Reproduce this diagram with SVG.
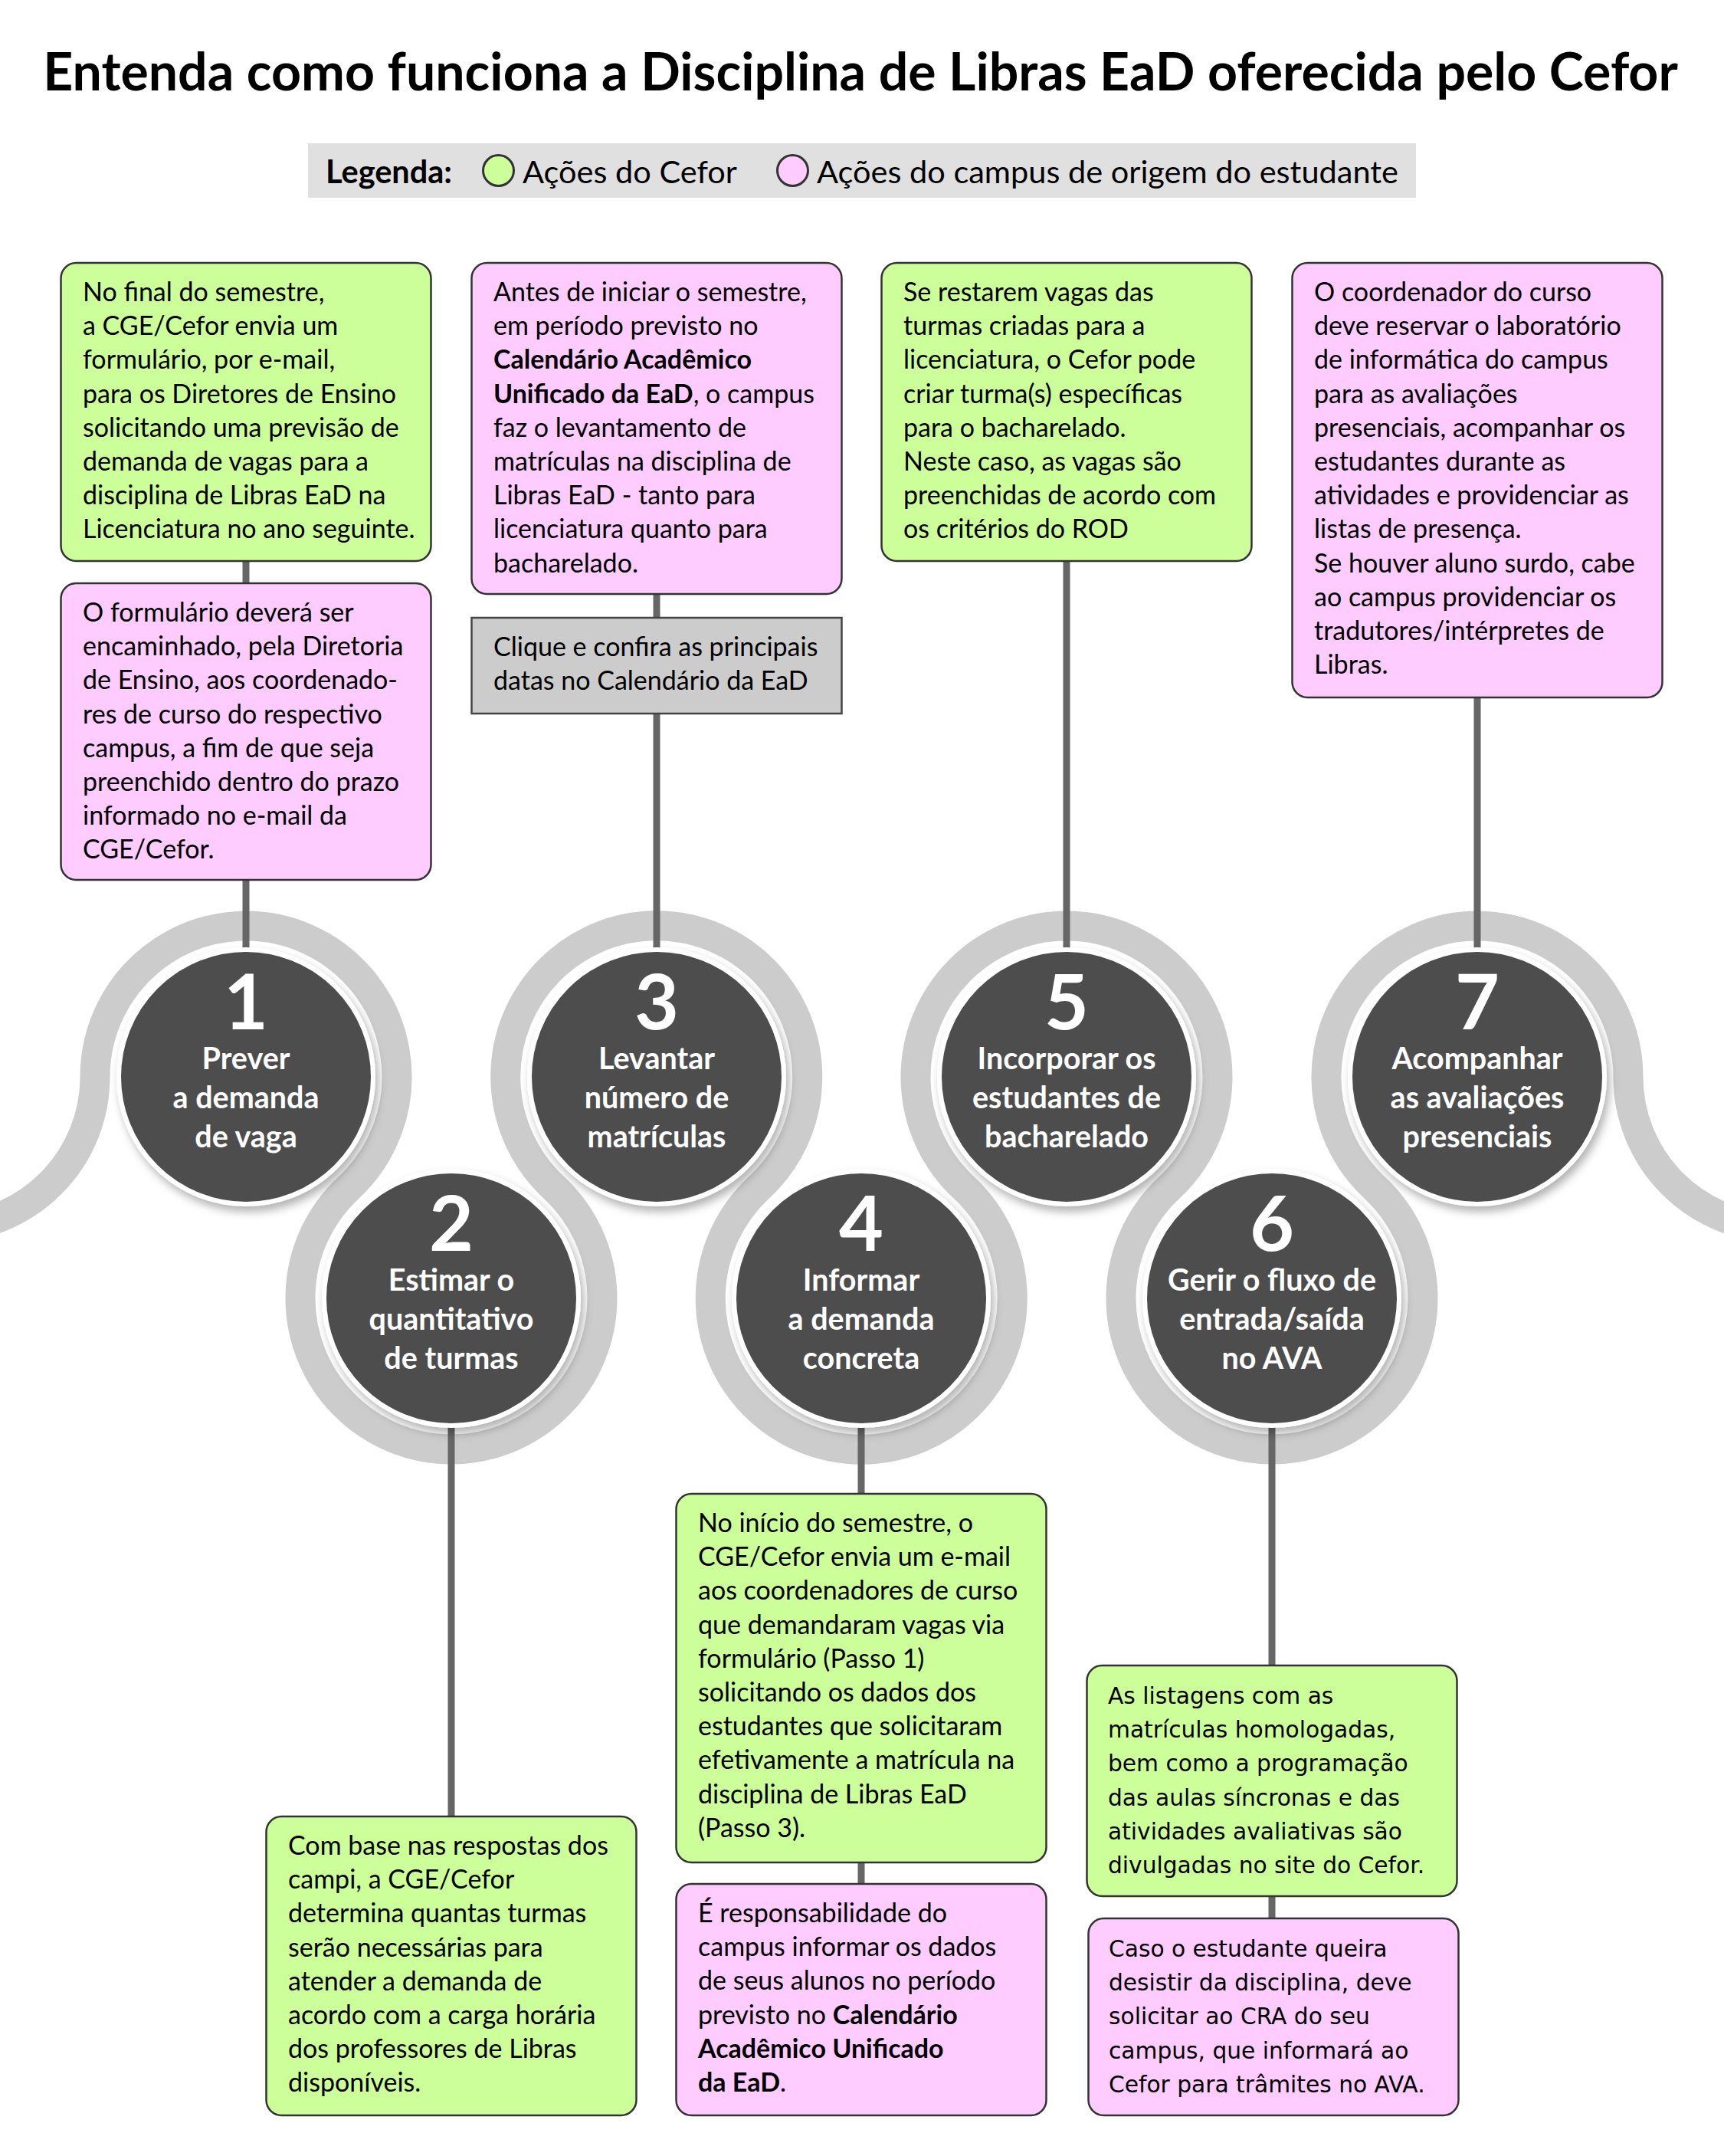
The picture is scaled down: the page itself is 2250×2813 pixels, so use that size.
<svg xmlns="http://www.w3.org/2000/svg" width="2250" height="2813" viewBox="0 0 2250 2813">
<style>
.t{font-family:Lato,"Open Sans",sans-serif;font-size:34px;fill:#000}
.v{font-family:"DejaVu Sans",Verdana,sans-serif;font-size:29.7px;fill:#000}
.b{font-weight:bold}
.g{fill:#ccff99;stroke:#333;stroke-width:2.5}
.p{fill:#ffccff;stroke:#333;stroke-width:2.5}
.gr{fill:#cccccc;stroke:#444;stroke-width:2.5}
.stem{stroke:#666;stroke-width:9;fill:none}
.band{stroke:#cccccc;stroke-width:39;fill:none}
.dot{fill:#4d4d4d;stroke:#fff;stroke-width:6}
.num{font-family:Lato,"Open Sans",sans-serif;font-weight:bold;font-size:100px;fill:#fff;text-anchor:middle}
.lbl{font-family:Lato,"Open Sans",sans-serif;font-weight:bold;font-size:39.5px;fill:#fff;text-anchor:middle}
</style>
<defs>
<filter id="sh" x="-20%" y="-20%" width="140%" height="140%">
<feDropShadow dx="4" dy="7" stdDeviation="6" flood-color="#000" flood-opacity="0.3"/>
</filter>
</defs>
<rect width="2250" height="2813" fill="#fff"/>
<text x="1123" y="118" text-anchor="middle" style="font-family:Lato,'Open Sans',sans-serif;font-weight:bold;font-size:68px">Entenda como funciona a Disciplina de Libras EaD oferecida pelo Cefor</text>
<g id="legend">
<rect x="402" y="187" width="1446" height="71" fill="#e0e0e0"/>
<text x="425" y="239" class="t b" style="font-size:41.5px">Legenda:</text>
<circle cx="650.5" cy="222.5" r="20" fill="#ccff99" stroke="#333" stroke-width="3"/>
<text x="682" y="239" class="t" style="font-size:41.5px">Ações do Cefor</text>
<circle cx="1034.5" cy="222.5" r="20" fill="#ffccff" stroke="#333" stroke-width="3"/>
<text x="1066" y="239" class="t" style="font-size:41.5px">Ações do campus de origem do estudante</text>
</g>
<g id="band">
<path class="band" d="M -73 1602 A 197 197 0 0 0 124 1405 A 197 197 0 1 1 455 1549.5 A 197 197 0 1 0 723 1549.5 A 197 197 0 1 1 990.5 1549.5 A 197 197 0 1 0 1258 1549.5 A 197 197 0 1 1 1526 1549.5 A 197 197 0 1 0 1794 1549.5 A 197 197 0 1 1 2125 1405 A 197 197 0 0 0 2322 1602"/>
</g>
<g id="connectors">
<line class="stem" x1="321" y1="730" x2="321" y2="1250"/>
<line class="stem" x1="857" y1="770" x2="857" y2="1250"/>
<line class="stem" x1="1392" y1="730" x2="1392" y2="1250"/>
<line class="stem" x1="1928" y1="905" x2="1928" y2="1250"/>
<line class="stem" x1="589" y1="1850" x2="589" y2="2372"/>
<line class="stem" x1="1124" y1="1850" x2="1124" y2="2460"/>
<line class="stem" x1="1660" y1="1850" x2="1660" y2="2505"/>
</g>
<g id="step1" filter="url(#sh)"><circle class="dot" cx="321" cy="1405" r="166"/></g>
<g id="step1-text"><text class="num" x="321" y="1343">1</text><text class="lbl" x="321" y="1395">Prever</text><text class="lbl" x="321" y="1446">a demanda</text><text class="lbl" x="321" y="1497">de vaga</text></g>
<g id="step2" filter="url(#sh)"><circle class="dot" cx="589" cy="1694" r="166"/></g>
<g id="step2-text"><text class="num" x="589" y="1632">2</text><text class="lbl" x="589" y="1684">Estimar o</text><text class="lbl" x="589" y="1735">quantitativo</text><text class="lbl" x="589" y="1786">de turmas</text></g>
<g id="step3" filter="url(#sh)"><circle class="dot" cx="857" cy="1405" r="166"/></g>
<g id="step3-text"><text class="num" x="857" y="1343">3</text><text class="lbl" x="857" y="1395">Levantar</text><text class="lbl" x="857" y="1446">número de</text><text class="lbl" x="857" y="1497">matrículas</text></g>
<g id="step4" filter="url(#sh)"><circle class="dot" cx="1124" cy="1694" r="166"/></g>
<g id="step4-text"><text class="num" x="1124" y="1632">4</text><text class="lbl" x="1124" y="1684">Informar</text><text class="lbl" x="1124" y="1735">a demanda</text><text class="lbl" x="1124" y="1786">concreta</text></g>
<g id="step5" filter="url(#sh)"><circle class="dot" cx="1392" cy="1405" r="166"/></g>
<g id="step5-text"><text class="num" x="1392" y="1343">5</text><text class="lbl" x="1392" y="1395">Incorporar os</text><text class="lbl" x="1392" y="1446">estudantes de</text><text class="lbl" x="1392" y="1497">bacharelado</text></g>
<g id="step6" filter="url(#sh)"><circle class="dot" cx="1660" cy="1694" r="166"/></g>
<g id="step6-text"><text class="num" x="1660" y="1632">6</text><text class="lbl" x="1660" y="1684">Gerir o fluxo de</text><text class="lbl" x="1660" y="1735">entrada/saída</text><text class="lbl" x="1660" y="1786">no AVA</text></g>
<g id="step7" filter="url(#sh)"><circle class="dot" cx="1928" cy="1405" r="166"/></g>
<g id="step7-text"><text class="num" x="1928" y="1343">7</text><text class="lbl" x="1928" y="1395">Acompanhar</text><text class="lbl" x="1928" y="1446">as avaliações</text><text class="lbl" x="1928" y="1497">presenciais</text></g>

<g id="box1a"><rect class="g" x="79.5" y="343" width="483" height="389" rx="20"/>
<text class="t" x="108" y="393"><tspan x="108">No final do semestre,</tspan><tspan x="108" dy="44.2">a CGE/Cefor envia um</tspan><tspan x="108" dy="44.2">formulário, por e-mail,</tspan><tspan x="108" dy="44.2">para os Diretores de Ensino</tspan><tspan x="108" dy="44.2">solicitando uma previsão de</tspan><tspan x="108" dy="44.2">demanda de vagas para a</tspan><tspan x="108" dy="44.2">disciplina de Libras EaD na</tspan><tspan x="108" dy="44.2">Licenciatura no ano seguinte.</tspan></text></g>
<g id="box1b"><rect class="p" x="79.5" y="761" width="483" height="387" rx="20"/>
<text class="t" x="108" y="811"><tspan x="108">O formulário deverá ser</tspan><tspan x="108" dy="44.2">encaminhado, pela Diretoria</tspan><tspan x="108" dy="44.2">de Ensino, aos coordenado-</tspan><tspan x="108" dy="44.2">res de curso do respectivo</tspan><tspan x="108" dy="44.2">campus, a fim de que seja</tspan><tspan x="108" dy="44.2">preenchido dentro do prazo</tspan><tspan x="108" dy="44.2">informado no e-mail da</tspan><tspan x="108" dy="44.2">CGE/Cefor.</tspan></text></g>
<g id="box3a"><rect class="p" x="615.5" y="343" width="483" height="432" rx="20"/>
<text class="t" x="644" y="393"><tspan x="644">Antes de iniciar o semestre,</tspan><tspan x="644" dy="44.2">em período previsto no</tspan><tspan x="644" dy="44.2" class="b">Calendário Acadêmico</tspan><tspan x="644" dy="44.2" class="b">Unificado da EaD</tspan><tspan>, o campus</tspan><tspan x="644" dy="44.2">faz o levantamento de</tspan><tspan x="644" dy="44.2">matrículas na disciplina de</tspan><tspan x="644" dy="44.2">Libras EaD - tanto para</tspan><tspan x="644" dy="44.2">licenciatura quanto para</tspan><tspan x="644" dy="44.2">bacharelado.</tspan></text></g>
<g id="box3b"><rect class="gr" x="615.5" y="806" width="483" height="125"/>
<text class="t" x="644" y="856"><tspan x="644">Clique e confira as principais</tspan><tspan x="644" dy="44.2">datas no Calendário da EaD</tspan></text></g>
<g id="box5"><rect class="g" x="1150.5" y="343" width="483" height="389" rx="20"/>
<text class="t" x="1179" y="393"><tspan x="1179">Se restarem vagas das</tspan><tspan x="1179" dy="44.2">turmas criadas para a</tspan><tspan x="1179" dy="44.2">licenciatura, o Cefor pode</tspan><tspan x="1179" dy="44.2">criar turma(s) específicas</tspan><tspan x="1179" dy="44.2">para o bacharelado.</tspan><tspan x="1179" dy="44.2">Neste caso, as vagas são</tspan><tspan x="1179" dy="44.2">preenchidas de acordo com</tspan><tspan x="1179" dy="44.2">os critérios do ROD</tspan></text></g>
<g id="box7"><rect class="p" x="1686.5" y="343" width="483" height="567" rx="20"/>
<text class="t" x="1715" y="393"><tspan x="1715">O coordenador do curso</tspan><tspan x="1715" dy="44.2">deve reservar o laboratório</tspan><tspan x="1715" dy="44.2">de informática do campus</tspan><tspan x="1715" dy="44.2">para as avaliações</tspan><tspan x="1715" dy="44.2">presenciais, acompanhar os</tspan><tspan x="1715" dy="44.2">estudantes durante as</tspan><tspan x="1715" dy="44.2">atividades e providenciar as</tspan><tspan x="1715" dy="44.2">listas de presença.</tspan><tspan x="1715" dy="44.2">Se houver aluno surdo, cabe</tspan><tspan x="1715" dy="44.2">ao campus providenciar os</tspan><tspan x="1715" dy="44.2">tradutores/intérpretes de</tspan><tspan x="1715" dy="44.2">Libras.</tspan></text></g>
<g id="box2"><rect class="g" x="347.5" y="2370" width="483" height="390" rx="20"/>
<text class="t" x="376" y="2420"><tspan x="376">Com base nas respostas dos</tspan><tspan x="376" dy="44.2">campi, a CGE/Cefor</tspan><tspan x="376" dy="44.2">determina quantas turmas</tspan><tspan x="376" dy="44.2">serão necessárias para</tspan><tspan x="376" dy="44.2">atender a demanda de</tspan><tspan x="376" dy="44.2">acordo com a carga horária</tspan><tspan x="376" dy="44.2">dos professores de Libras</tspan><tspan x="376" dy="44.2">disponíveis.</tspan></text></g>
<g id="box4a"><rect class="g" x="882.5" y="1949" width="483" height="481" rx="20"/>
<text class="t" x="911" y="1999"><tspan x="911">No início do semestre, o</tspan><tspan x="911" dy="44.2">CGE/Cefor envia um e-mail</tspan><tspan x="911" dy="44.2">aos coordenadores de curso</tspan><tspan x="911" dy="44.2">que demandaram vagas via</tspan><tspan x="911" dy="44.2">formulário (Passo 1)</tspan><tspan x="911" dy="44.2">solicitando os dados dos</tspan><tspan x="911" dy="44.2">estudantes que solicitaram</tspan><tspan x="911" dy="44.2">efetivamente a matrícula na</tspan><tspan x="911" dy="44.2">disciplina de Libras EaD</tspan><tspan x="911" dy="44.2">(Passo 3).</tspan></text></g>
<g id="box4b"><rect class="p" x="882.5" y="2458" width="483" height="302" rx="20"/>
<text class="t" x="911" y="2508"><tspan x="911">É responsabilidade do</tspan><tspan x="911" dy="44.2">campus informar os dados</tspan><tspan x="911" dy="44.2">de seus alunos no período</tspan><tspan x="911" dy="44.2">previsto no </tspan><tspan class="b">Calendário</tspan><tspan x="911" dy="44.2" class="b">Acadêmico Unificado</tspan><tspan x="911" dy="44.2" class="b">da EaD</tspan><tspan>.</tspan></text></g>
<g id="box6a"><rect class="g" x="1418.5" y="2173" width="483" height="301" rx="20"/>
<text class="v" x="1446" y="2223"><tspan x="1446">As listagens com as</tspan><tspan x="1446" dy="44.2">matrículas homologadas,</tspan><tspan x="1446" dy="44.2">bem como a programação</tspan><tspan x="1446" dy="44.2">das aulas síncronas e das</tspan><tspan x="1446" dy="44.2">atividades avaliativas são</tspan><tspan x="1446" dy="44.2">divulgadas no site do Cefor.</tspan></text></g>
<g id="box6b"><rect class="p" x="1420.5" y="2503" width="483" height="257" rx="20"/>
<text class="v" x="1447" y="2553"><tspan x="1447">Caso o estudante queira</tspan><tspan x="1447" dy="44.2">desistir da disciplina, deve</tspan><tspan x="1447" dy="44.2">solicitar ao CRA do seu</tspan><tspan x="1447" dy="44.2">campus, que informará ao</tspan><tspan x="1447" dy="44.2">Cefor para trâmites no AVA.</tspan></text></g>
</svg>
